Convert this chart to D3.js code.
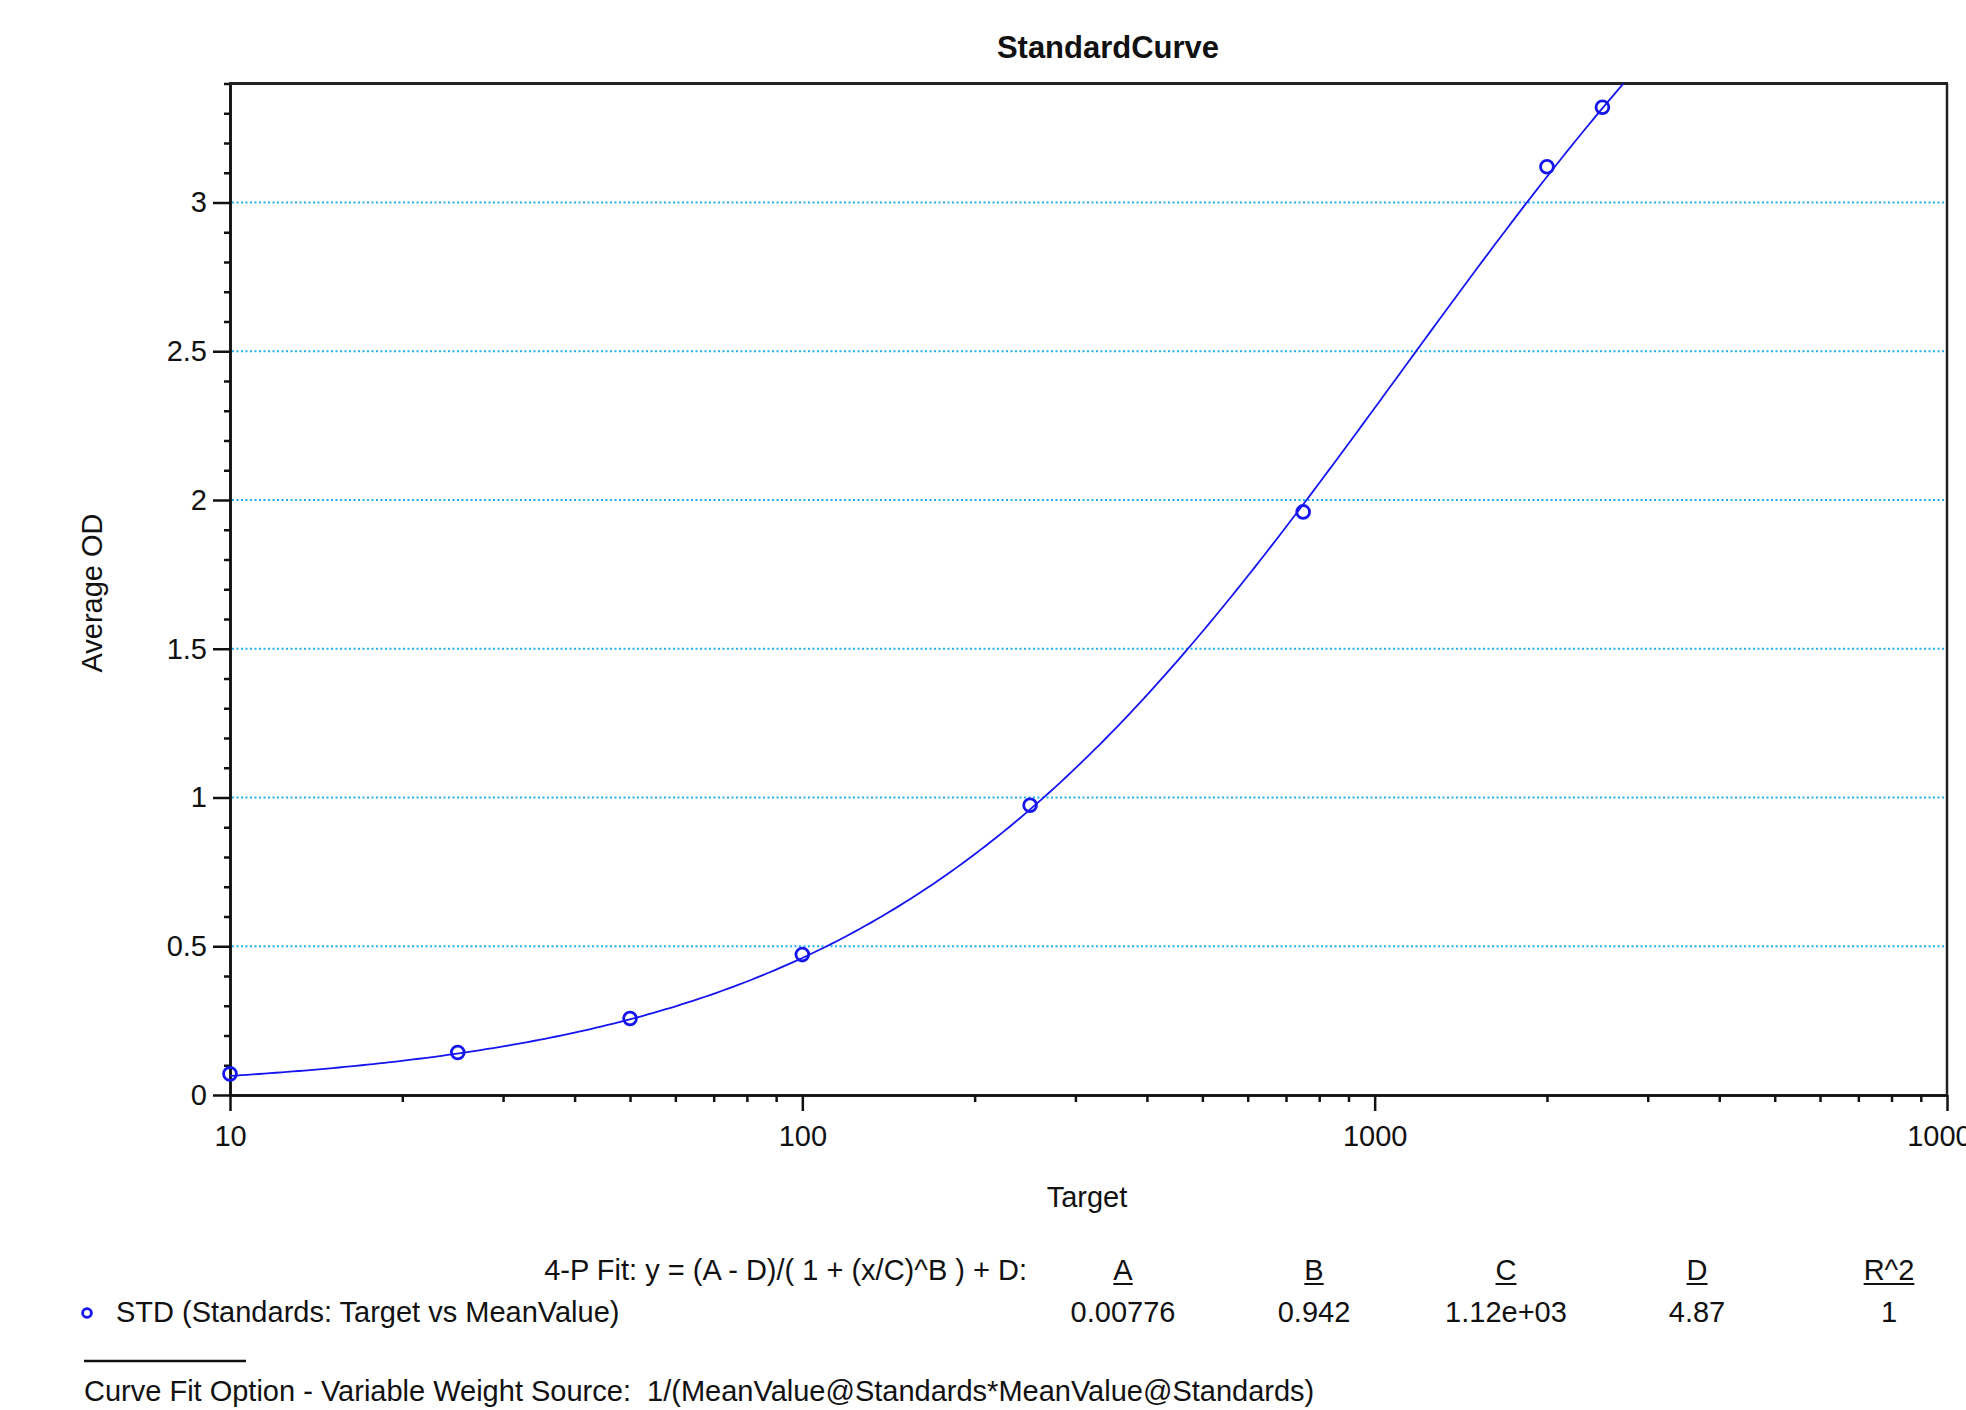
<!DOCTYPE html>
<html>
<head>
<meta charset="utf-8">
<script src="https://cdn.jsdelivr.net/npm/d3@7"></script>
<style>
    html, body { margin: 0; padding: 0; background: #fff; }
    svg text { font-family: "Liberation Sans", Arial, sans-serif; fill: #111; white-space: pre; }
</style>
</head>
<body>
<div id="chart"></div>
<script>
// standards
var targetValues = [10, 25, 50, 100, 250, 750, 2000, 2500];
var meanOD = [0.071, 0.143, 0.257, 0.472, 0.974, 1.960, 3.120, 3.320];

// 4-P fit parameters as printed under the chart
var fitNames = ['A', 'B', 'C', 'D', 'R^2'];
var fitValues = [0.00776, 0.942, 1120, 4.87, 1];
var fitLabels = ['0.00776', '0.942', '1.12e+03', '4.87', '1'];

var yTicks = [0, 0.5, 1, 1.5, 2, 2.5, 3];
var yGrid = [0.5, 1, 1.5, 2, 2.5, 3];
var xTicks = [10, 100, 1000, 10000];

function drawChart() {
    var W = 1966, H = 1410;
    var pLeft = 230, pRight = 1947, pTop = 83.5, pBottom = 1095;
    var fs = '29px';

    var svg = d3.select('#chart').append('svg')
        .attr('width', W)
        .attr('height', H);

    var x = d3.scaleLog().domain([10, 10000]).range([pLeft, pRight]);
    var y = d3.scaleLinear().domain([0, 3.4]).range([pBottom, pTop]);

    svg.append('defs').append('clipPath')
        .attr('id', 'plotclip')
        .append('rect')
        .attr('x', pLeft).attr('y', pTop)
        .attr('width', pRight - pLeft).attr('height', pBottom - pTop);

    // dotted grid
    svg.append('g').selectAll('line')
        .data(yGrid)
        .enter().append('line')
        .attr('x1', pLeft + 2).attr('x2', pRight)
        .attr('y1', function(d) { return y(d); })
        .attr('y2', function(d) { return y(d); })
        .attr('stroke', '#22b2ea')
        .attr('stroke-width', 2)
        .attr('stroke-dasharray', '2,2.5');

    /**
     *  Axes
     */
    var yMinor = d3.range(0, 35).map(function(i) { return i / 10; })
        .filter(function(d) { return yTicks.indexOf(d) < 0; });

    var gy = svg.append('g').attr('transform', 'translate(' + pLeft + ',0)');
    gy.call(d3.axisLeft(y).tickValues(yMinor).tickSize(6).tickSizeOuter(0).tickFormat(''));
    gy.append('g').call(d3.axisLeft(y).tickValues(yTicks).tickSize(17).tickSizeOuter(0).tickPadding(6)
        .tickFormat(function(d) { return d; }));

    var xMinor = [];
    [10, 100, 1000].forEach(function(dec) {
        for (var k = 2; k <= 9; k++) xMinor.push(dec * k);
    });

    var gx = svg.append('g').attr('transform', 'translate(0,' + pBottom + ')');
    gx.call(d3.axisBottom(x).tickValues(xMinor).tickSize(7).tickSizeOuter(0).tickFormat(''));
    gx.append('g').call(d3.axisBottom(x).tickValues(xTicks).tickSize(16).tickSizeOuter(0).tickPadding(14)
        .tickFormat(d3.format('d')));

    svg.selectAll('.domain, .tick line')
        .attr('stroke', '#111')
        .attr('stroke-width', 2.5);
    svg.selectAll('.tick text')
        .style('font-size', fs)
        .attr('fill', '#111');

    // top and right frame
    svg.append('line')
        .attr('x1', pLeft - 1).attr('x2', pRight + 1)
        .attr('y1', pTop).attr('y2', pTop)
        .attr('stroke', '#222').attr('stroke-width', 3);
    svg.append('line')
        .attr('x1', pRight).attr('x2', pRight)
        .attr('y1', pTop).attr('y2', pBottom)
        .attr('stroke', '#222').attr('stroke-width', 2.5);

    /**
     *  Fitted curve from the printed 4-P parameters
     */
    var A = fitValues[0], B = fitValues[1], C = fitValues[2], D = fitValues[3];
    var curveX = d3.range(0, 301).map(function(i) { return Math.pow(10, 1 + i * 3 / 300); });
    var curvePts = curveX.map(function(t) {
        return [t, (A - D) / (1 + Math.pow(t / C, B)) + D];
    });

    svg.append('path')
        .datum(curvePts)
        .attr('clip-path', 'url(#plotclip)')
        .attr('fill', 'none')
        .attr('stroke', '#1515f0')
        .attr('stroke-width', 1.8)
        .attr('d', d3.line()
            .x(function(d) { return x(d[0]); })
            .y(function(d) { return y(d[1]); }));

    // standards
    svg.append('g').selectAll('circle')
        .data(targetValues)
        .enter().append('circle')
        .attr('cx', function(d) { return x(d); })
        .attr('cy', function(d, i) { return y(meanOD[i]); })
        .attr('r', 6.4)
        .attr('fill', 'none')
        .attr('stroke', '#1515f0')
        .attr('stroke-width', 2.8);

    /**
     *  Titles
     */
    svg.append('text')
        .attr('x', 1108).attr('y', 58)
        .attr('text-anchor', 'middle')
        .style('font-size', '31px')
        .style('font-weight', 'bold')
        .text('StandardCurve');

    svg.append('text')
        .attr('x', 1087).attr('y', 1207)
        .attr('text-anchor', 'middle')
        .style('font-size', fs)
        .text('Target');

    svg.append('text')
        .attr('transform', 'translate(102,593) rotate(-90)')
        .attr('text-anchor', 'middle')
        .style('font-size', fs)
        .text('Average OD');

    /**
     *  Fit table and legend
     */
    svg.append('text')
        .attr('x', 1027).attr('y', 1280)
        .attr('text-anchor', 'end')
        .style('font-size', fs)
        .text('4-P Fit: y = (A - D)/( 1 + (x/C)^B ) + D:');

    var colX = [1123, 1314, 1506, 1697, 1889];

    fitNames.forEach(function(name, i) {
        var t = svg.append('text')
            .attr('x', colX[i]).attr('y', 1280)
            .attr('text-anchor', 'middle')
            .style('font-size', fs)
            .text(name);
        var w = t.node().getComputedTextLength();
        svg.append('line')
            .attr('x1', colX[i] - w / 2).attr('x2', colX[i] + w / 2)
            .attr('y1', 1284).attr('y2', 1284)
            .attr('stroke', '#111').attr('stroke-width', 2);

        svg.append('text')
            .attr('x', colX[i]).attr('y', 1322)
            .attr('text-anchor', 'middle')
            .style('font-size', fs)
            .text(fitLabels[i]);
    });

    svg.append('circle')
        .attr('cx', 87).attr('cy', 1313)
        .attr('r', 4.4)
        .attr('fill', 'none')
        .attr('stroke', '#1515f0')
        .attr('stroke-width', 2.8);

    svg.append('text')
        .attr('x', 116).attr('y', 1322)
        .style('font-size', fs)
        .text('STD (Standards: Target vs MeanValue)');

    svg.append('line')
        .attr('x1', 84).attr('x2', 246)
        .attr('y1', 1361).attr('y2', 1361)
        .attr('stroke', '#111').attr('stroke-width', 2.5);

    svg.append('text')
        .attr('x', 84).attr('y', 1401)
        .style('font-size', fs)
        .text('Curve Fit Option - Variable Weight Source:  1/(MeanValue@Standards*MeanValue@Standards)');
}

drawChart();
</script>
</body>
</html>
